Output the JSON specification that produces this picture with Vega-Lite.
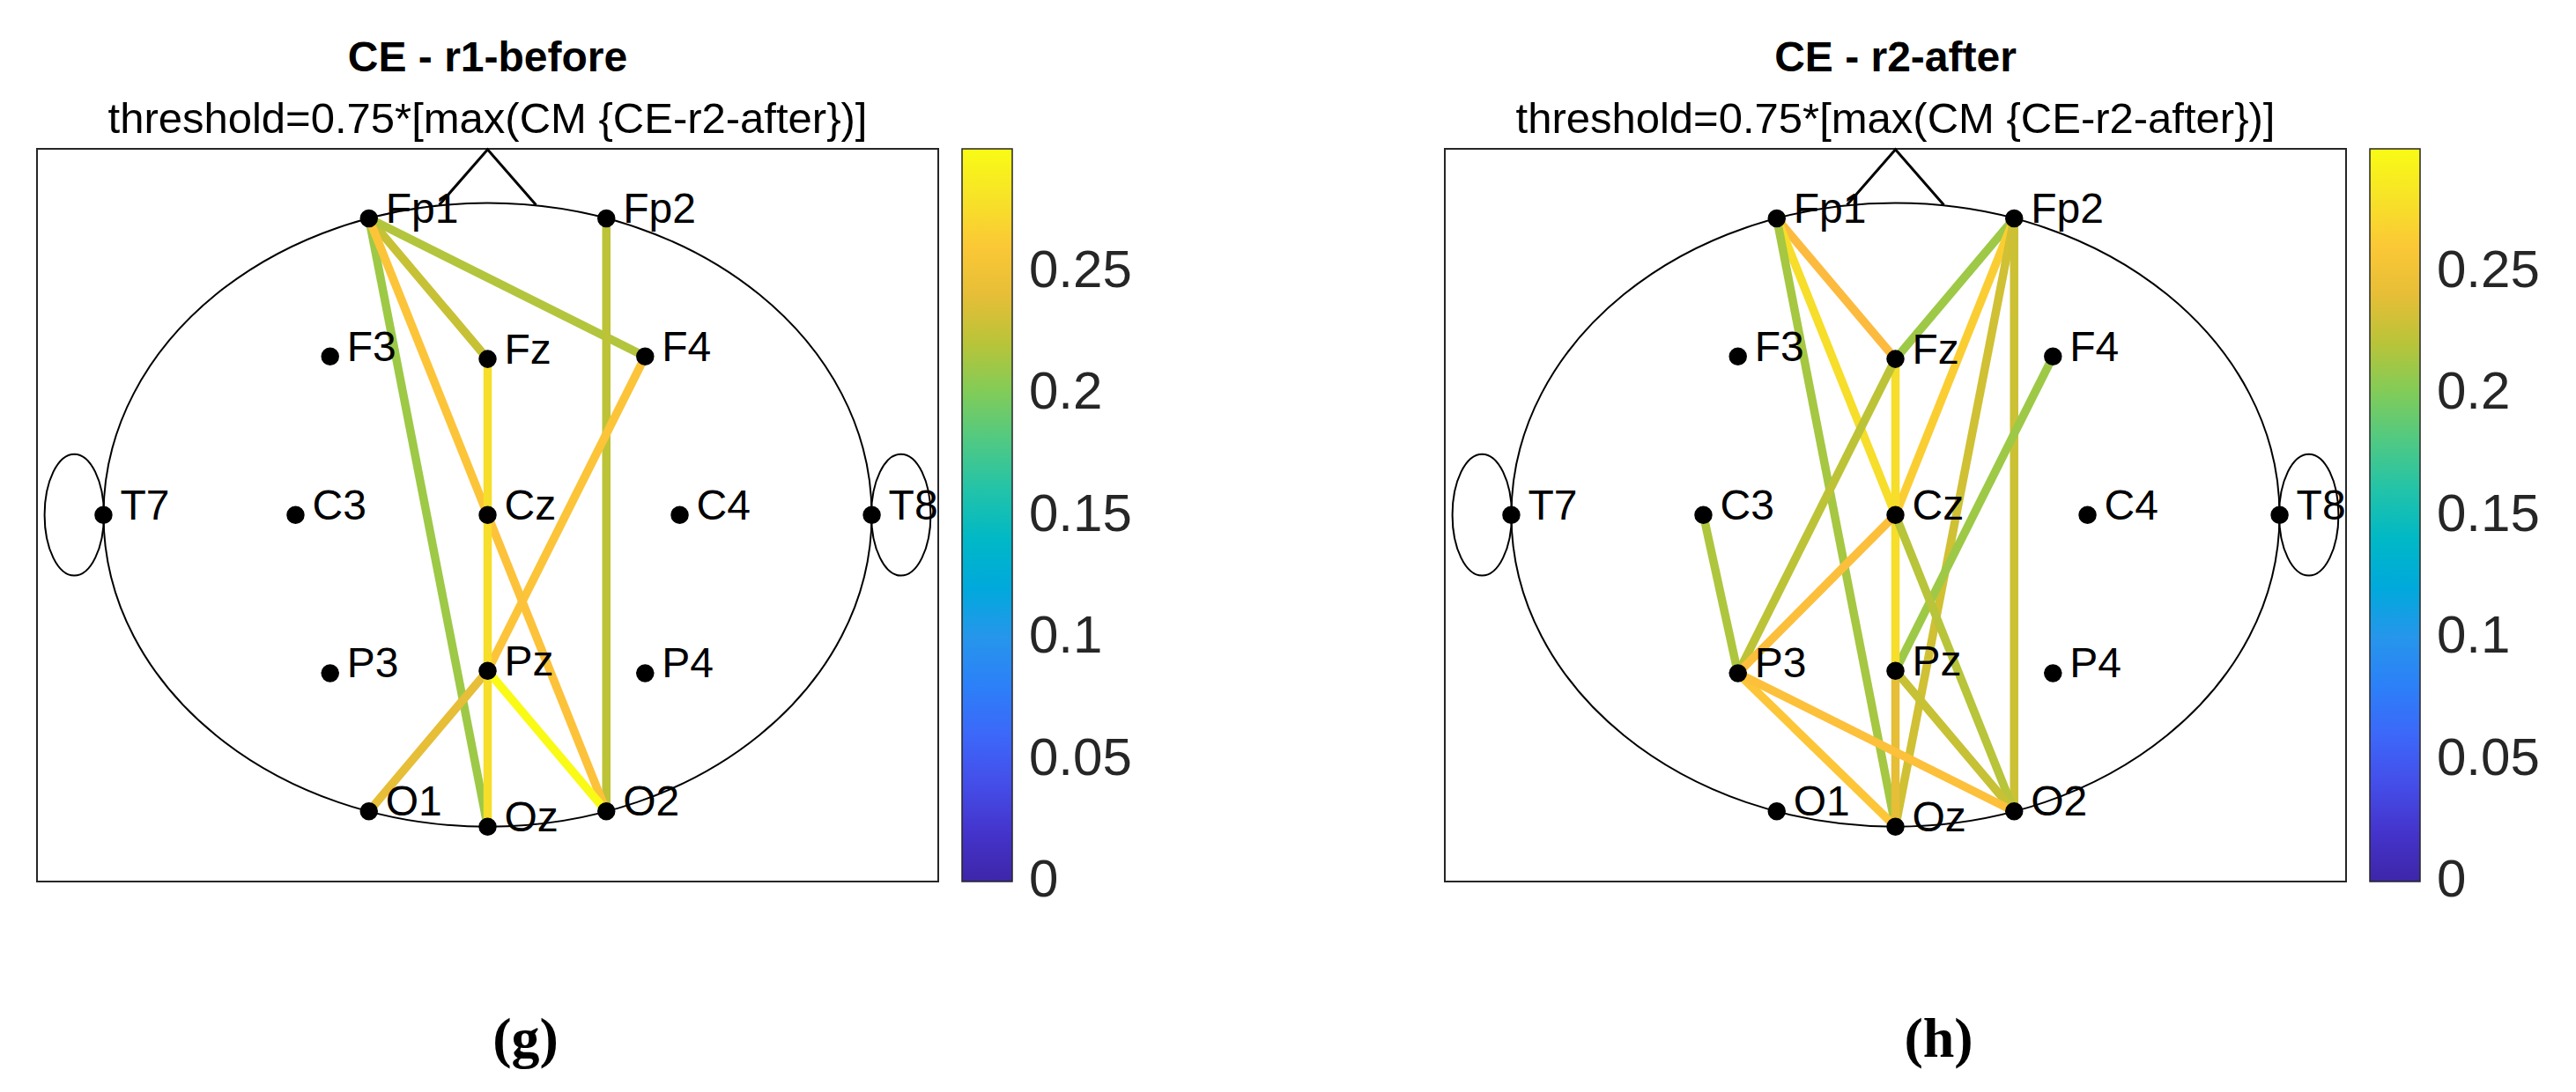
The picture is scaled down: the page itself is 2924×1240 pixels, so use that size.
{
  "$schema": "https://vega.github.io/schema/vega-lite/v6.json",
  "padding": {"top": 41, "left": 41, "right": 5, "bottom": 5},
  "background": "white",
  "bounds": "flush",
  "spacing": 575,
  "config": {"view": {"stroke": "#262626", "strokeWidth": 2}, "font": "Liberation Sans"},
  "datasets": {
    "elec": [
      {"name": "Fp1", "x": -0.309, "y": 0.951},
      {"name": "Fp2", "x": 0.309, "y": 0.951},
      {"name": "F3", "x": -0.41, "y": 0.508},
      {"name": "Fz", "x": 0, "y": 0.5},
      {"name": "F4", "x": 0.41, "y": 0.508},
      {"name": "T7", "x": -1, "y": 0},
      {"name": "C3", "x": -0.5, "y": 0},
      {"name": "Cz", "x": 0, "y": 0},
      {"name": "C4", "x": 0.5, "y": 0},
      {"name": "T8", "x": 1, "y": 0},
      {"name": "P3", "x": -0.41, "y": -0.508},
      {"name": "Pz", "x": 0, "y": -0.5},
      {"name": "P4", "x": 0.41, "y": -0.508},
      {"name": "O1", "x": -0.309, "y": -0.951},
      {"name": "Oz", "x": 0, "y": -1},
      {"name": "O2", "x": 0.309, "y": -0.951}
    ],
    "head": [{"x": 0, "y": 0}],
    "ears": [{"x": -1.076, "y": 0}, {"x": 1.076, "y": 0}],
    "nose": [{"x": -0.126, "y": 0.994, "o": 1}, {"x": 0, "y": 1.172, "o": 2}, {"x": 0.126, "y": 0.994, "o": 3}],
    "edgesG": [
      {"a": "Fp1", "b": "Fz", "v": 0.226},
      {"a": "Fp1", "b": "F4", "v": 0.218},
      {"a": "Fp1", "b": "Oz", "v": 0.21},
      {"a": "Fp2", "b": "O2", "v": 0.222},
      {"a": "Fp1", "b": "Cz", "v": 0.257},
      {"a": "F4", "b": "Pz", "v": 0.257},
      {"a": "Cz", "b": "O2", "v": 0.255},
      {"a": "Pz", "b": "O1", "v": 0.24},
      {"a": "Fz", "b": "Cz", "v": 0.276},
      {"a": "Cz", "b": "Pz", "v": 0.276},
      {"a": "Pz", "b": "Oz", "v": 0.276},
      {"a": "Pz", "b": "O2", "v": 0.299}
    ],
    "edgesH": [
      {"a": "Fp1", "b": "Fz", "v": 0.25},
      {"a": "Fp1", "b": "Cz", "v": 0.276},
      {"a": "Fp1", "b": "Oz", "v": 0.213},
      {"a": "Fp2", "b": "Fz", "v": 0.21},
      {"a": "Fp2", "b": "Cz", "v": 0.264},
      {"a": "Fp2", "b": "Oz", "v": 0.23},
      {"a": "Fp2", "b": "O2", "v": 0.228},
      {"a": "F4", "b": "Pz", "v": 0.21},
      {"a": "Fz", "b": "Cz", "v": 0.276},
      {"a": "Fz", "b": "P3", "v": 0.222},
      {"a": "Cz", "b": "Pz", "v": 0.276},
      {"a": "Cz", "b": "P3", "v": 0.253},
      {"a": "Cz", "b": "O2", "v": 0.22},
      {"a": "Pz", "b": "Oz", "v": 0.24},
      {"a": "Pz", "b": "O2", "v": 0.226},
      {"a": "C3", "b": "P3", "v": 0.216},
      {"a": "P3", "b": "Oz", "v": 0.258},
      {"a": "P3", "b": "O2", "v": 0.254}
    ]
  },
  "resolve": {"scale": {"color": "independent"}, "legend": {"color": "independent"}},
  "hconcat": [
    {
      "width": 1023,
      "height": 832,
      "title": {"text": "CE - r1-before", "subtitle": "threshold=0.75*[max(CM {CE-r2-after})]", "fontSize": 48, "fontWeight": "bold", "subtitleFontSize": 49, "subtitlePadding": 21, "offset": 3, "anchor": "middle", "frame": "group", "color": "black", "subtitleColor": "black", "font": "Liberation Sans", "subtitleFont": "Liberation Sans"},
      "layer": [
        {
          "data": {"name": "head"},
          "mark": {"type": "point", "shape": "M -1 0 A 1 0.812 0 1 0 1 0 A 1 0.812 0 1 0 -1 0 Z", "size": 760384, "filled": false, "stroke": "black", "strokeWidth": 2, "opacity": 1},
          "encoding": {
            "x": {"field": "x", "type": "quantitative", "scale": {"domain": [-1.173, 1.173], "nice": false, "zero": false}, "axis": {"title": "(g)", "domain": false, "ticks": false, "labels": false, "grid": false, "titleFont": "Liberation Serif", "titleFontSize": 64, "titleFontWeight": "bold", "titleColor": "black", "titleX": 554, "titleY": 198, "titleAlign": "center", "titleBaseline": "alphabetic"}},
            "y": {"field": "y", "type": "quantitative", "scale": {"domain": [-1.176, 1.174], "nice": false, "zero": false}, "axis": null}
          }
        },
        {
          "data": {"name": "ears"},
          "mark": {"type": "point", "shape": "M -0.489 0 A 0.489 1 0 1 0 0.489 0 A 0.489 1 0 1 0 -0.489 0 Z", "size": 19000, "filled": false, "stroke": "black", "strokeWidth": 2, "opacity": 1},
          "encoding": {
            "x": {"field": "x", "type": "quantitative", "scale": {"domain": [-1.173, 1.173], "nice": false, "zero": false}},
            "y": {"field": "y", "type": "quantitative", "scale": {"domain": [-1.176, 1.174], "nice": false, "zero": false}, "axis": null}
          }
        },
        {
          "data": {"name": "nose"},
          "mark": {"type": "line", "color": "black", "strokeWidth": 3},
          "encoding": {
            "x": {"field": "x", "type": "quantitative", "scale": {"domain": [-1.173, 1.173], "nice": false, "zero": false}},
            "y": {"field": "y", "type": "quantitative", "scale": {"domain": [-1.176, 1.174], "nice": false, "zero": false}, "axis": null},
            "order": {"field": "o", "type": "quantitative"}
          }
        },
        {
          "data": {"name": "edgesG"},
          "transform": [
            {"lookup": "a", "from": {"data": {"name": "elec"}, "key": "name", "fields": ["x", "y"]}, "as": ["xa", "ya"]},
            {"lookup": "b", "from": {"data": {"name": "elec"}, "key": "name", "fields": ["x", "y"]}, "as": ["xb", "yb"]}
          ],
          "mark": {"type": "rule", "strokeWidth": 9.5, "strokeCap": "butt"},
          "encoding": {
            "x": {"field": "xa", "type": "quantitative", "scale": {"domain": [-1.173, 1.173], "nice": false, "zero": false}},
            "y": {"field": "ya", "type": "quantitative", "scale": {"domain": [-1.176, 1.174], "nice": false, "zero": false}, "axis": null},
            "x2": {"field": "xb"},
            "y2": {"field": "yb"},
            "color": {"field": "v", "type": "quantitative",
              "scale": {"domain": [-0.0003, 0.3], "range": ["#3E26A8", "#4538D5", "#435BF6", "#3879FA", "#2796EB", "#10ADD7", "#1DBEB8", "#45C88E", "#80CC59", "#C5C135", "#FCBB3E", "#F6DD2B", "#F9FB15"]},
              "legend": {"orient": "none", "legendX": 1050, "legendY": 0, "direction": "vertical", "gradientLength": 832, "gradientThickness": 57, "title": null, "values": [0, 0.05, 0.1, 0.15, 0.2, 0.25], "format": "~g", "labelFontSize": 60, "labelFont": "Liberation Sans", "labelColor": "#262626", "labelOffset": 19, "labelBaseline": "middle", "labelOverlap": false, "gradientStrokeColor": "#262626", "gradientStrokeWidth": 1.5, "padding": 0}}
          }
        },
        {
          "data": {"name": "elec"},
          "mark": {"type": "circle", "color": "black", "size": 420, "opacity": 1},
          "encoding": {
            "x": {"field": "x", "type": "quantitative", "scale": {"domain": [-1.173, 1.173], "nice": false, "zero": false}},
            "y": {"field": "y", "type": "quantitative", "scale": {"domain": [-1.176, 1.174], "nice": false, "zero": false}, "axis": null}
          }
        },
        {
          "data": {"name": "elec"},
          "mark": {"type": "text", "align": "left", "baseline": "alphabetic", "dx": 19, "dy": 5, "fontSize": 48, "font": "Liberation Sans", "color": "black"},
          "encoding": {
            "x": {"field": "x", "type": "quantitative", "scale": {"domain": [-1.173, 1.173], "nice": false, "zero": false}},
            "y": {"field": "y", "type": "quantitative", "scale": {"domain": [-1.176, 1.174], "nice": false, "zero": false}, "axis": null},
            "text": {"field": "name"}
          }
        }
      ]
    },
    {
      "width": 1023,
      "height": 832,
      "title": {"text": "CE - r2-after", "subtitle": "threshold=0.75*[max(CM {CE-r2-after})]", "fontSize": 48, "fontWeight": "bold", "subtitleFontSize": 49, "subtitlePadding": 21, "offset": 3, "anchor": "middle", "frame": "group", "color": "black", "subtitleColor": "black", "font": "Liberation Sans", "subtitleFont": "Liberation Sans"},
      "layer": [
        {
          "data": {"name": "head"},
          "mark": {"type": "point", "shape": "M -1 0 A 1 0.812 0 1 0 1 0 A 1 0.812 0 1 0 -1 0 Z", "size": 760384, "filled": false, "stroke": "black", "strokeWidth": 2, "opacity": 1},
          "encoding": {
            "x": {"field": "x", "type": "quantitative", "scale": {"domain": [-1.173, 1.173], "nice": false, "zero": false}, "axis": {"title": "(h)", "domain": false, "ticks": false, "labels": false, "grid": false, "titleFont": "Liberation Serif", "titleFontSize": 64, "titleFontWeight": "bold", "titleColor": "black", "titleX": 560, "titleY": 198, "titleAlign": "center", "titleBaseline": "alphabetic"}},
            "y": {"field": "y", "type": "quantitative", "scale": {"domain": [-1.176, 1.174], "nice": false, "zero": false}, "axis": null}
          }
        },
        {
          "data": {"name": "ears"},
          "mark": {"type": "point", "shape": "M -0.489 0 A 0.489 1 0 1 0 0.489 0 A 0.489 1 0 1 0 -0.489 0 Z", "size": 19000, "filled": false, "stroke": "black", "strokeWidth": 2, "opacity": 1},
          "encoding": {
            "x": {"field": "x", "type": "quantitative", "scale": {"domain": [-1.173, 1.173], "nice": false, "zero": false}},
            "y": {"field": "y", "type": "quantitative", "scale": {"domain": [-1.176, 1.174], "nice": false, "zero": false}, "axis": null}
          }
        },
        {
          "data": {"name": "nose"},
          "mark": {"type": "line", "color": "black", "strokeWidth": 3},
          "encoding": {
            "x": {"field": "x", "type": "quantitative", "scale": {"domain": [-1.173, 1.173], "nice": false, "zero": false}},
            "y": {"field": "y", "type": "quantitative", "scale": {"domain": [-1.176, 1.174], "nice": false, "zero": false}, "axis": null},
            "order": {"field": "o", "type": "quantitative"}
          }
        },
        {
          "data": {"name": "edgesH"},
          "transform": [
            {"lookup": "a", "from": {"data": {"name": "elec"}, "key": "name", "fields": ["x", "y"]}, "as": ["xa", "ya"]},
            {"lookup": "b", "from": {"data": {"name": "elec"}, "key": "name", "fields": ["x", "y"]}, "as": ["xb", "yb"]}
          ],
          "mark": {"type": "rule", "strokeWidth": 9.5, "strokeCap": "butt"},
          "encoding": {
            "x": {"field": "xa", "type": "quantitative", "scale": {"domain": [-1.173, 1.173], "nice": false, "zero": false}},
            "y": {"field": "ya", "type": "quantitative", "scale": {"domain": [-1.176, 1.174], "nice": false, "zero": false}, "axis": null},
            "x2": {"field": "xb"},
            "y2": {"field": "yb"},
            "color": {"field": "v", "type": "quantitative",
              "scale": {"domain": [-0.0003, 0.3], "range": ["#3E26A8", "#4538D5", "#435BF6", "#3879FA", "#2796EB", "#10ADD7", "#1DBEB8", "#45C88E", "#80CC59", "#C5C135", "#FCBB3E", "#F6DD2B", "#F9FB15"]},
              "legend": {"orient": "none", "legendX": 1050, "legendY": 0, "direction": "vertical", "gradientLength": 832, "gradientThickness": 57, "title": null, "values": [0, 0.05, 0.1, 0.15, 0.2, 0.25], "format": "~g", "labelFontSize": 60, "labelFont": "Liberation Sans", "labelColor": "#262626", "labelOffset": 19, "labelBaseline": "middle", "labelOverlap": false, "gradientStrokeColor": "#262626", "gradientStrokeWidth": 1.5, "padding": 0}}
          }
        },
        {
          "data": {"name": "elec"},
          "mark": {"type": "circle", "color": "black", "size": 420, "opacity": 1},
          "encoding": {
            "x": {"field": "x", "type": "quantitative", "scale": {"domain": [-1.173, 1.173], "nice": false, "zero": false}},
            "y": {"field": "y", "type": "quantitative", "scale": {"domain": [-1.176, 1.174], "nice": false, "zero": false}, "axis": null}
          }
        },
        {
          "data": {"name": "elec"},
          "mark": {"type": "text", "align": "left", "baseline": "alphabetic", "dx": 19, "dy": 5, "fontSize": 48, "font": "Liberation Sans", "color": "black"},
          "encoding": {
            "x": {"field": "x", "type": "quantitative", "scale": {"domain": [-1.173, 1.173], "nice": false, "zero": false}},
            "y": {"field": "y", "type": "quantitative", "scale": {"domain": [-1.176, 1.174], "nice": false, "zero": false}, "axis": null},
            "text": {"field": "name"}
          }
        }
      ]
    }
  ]
}
